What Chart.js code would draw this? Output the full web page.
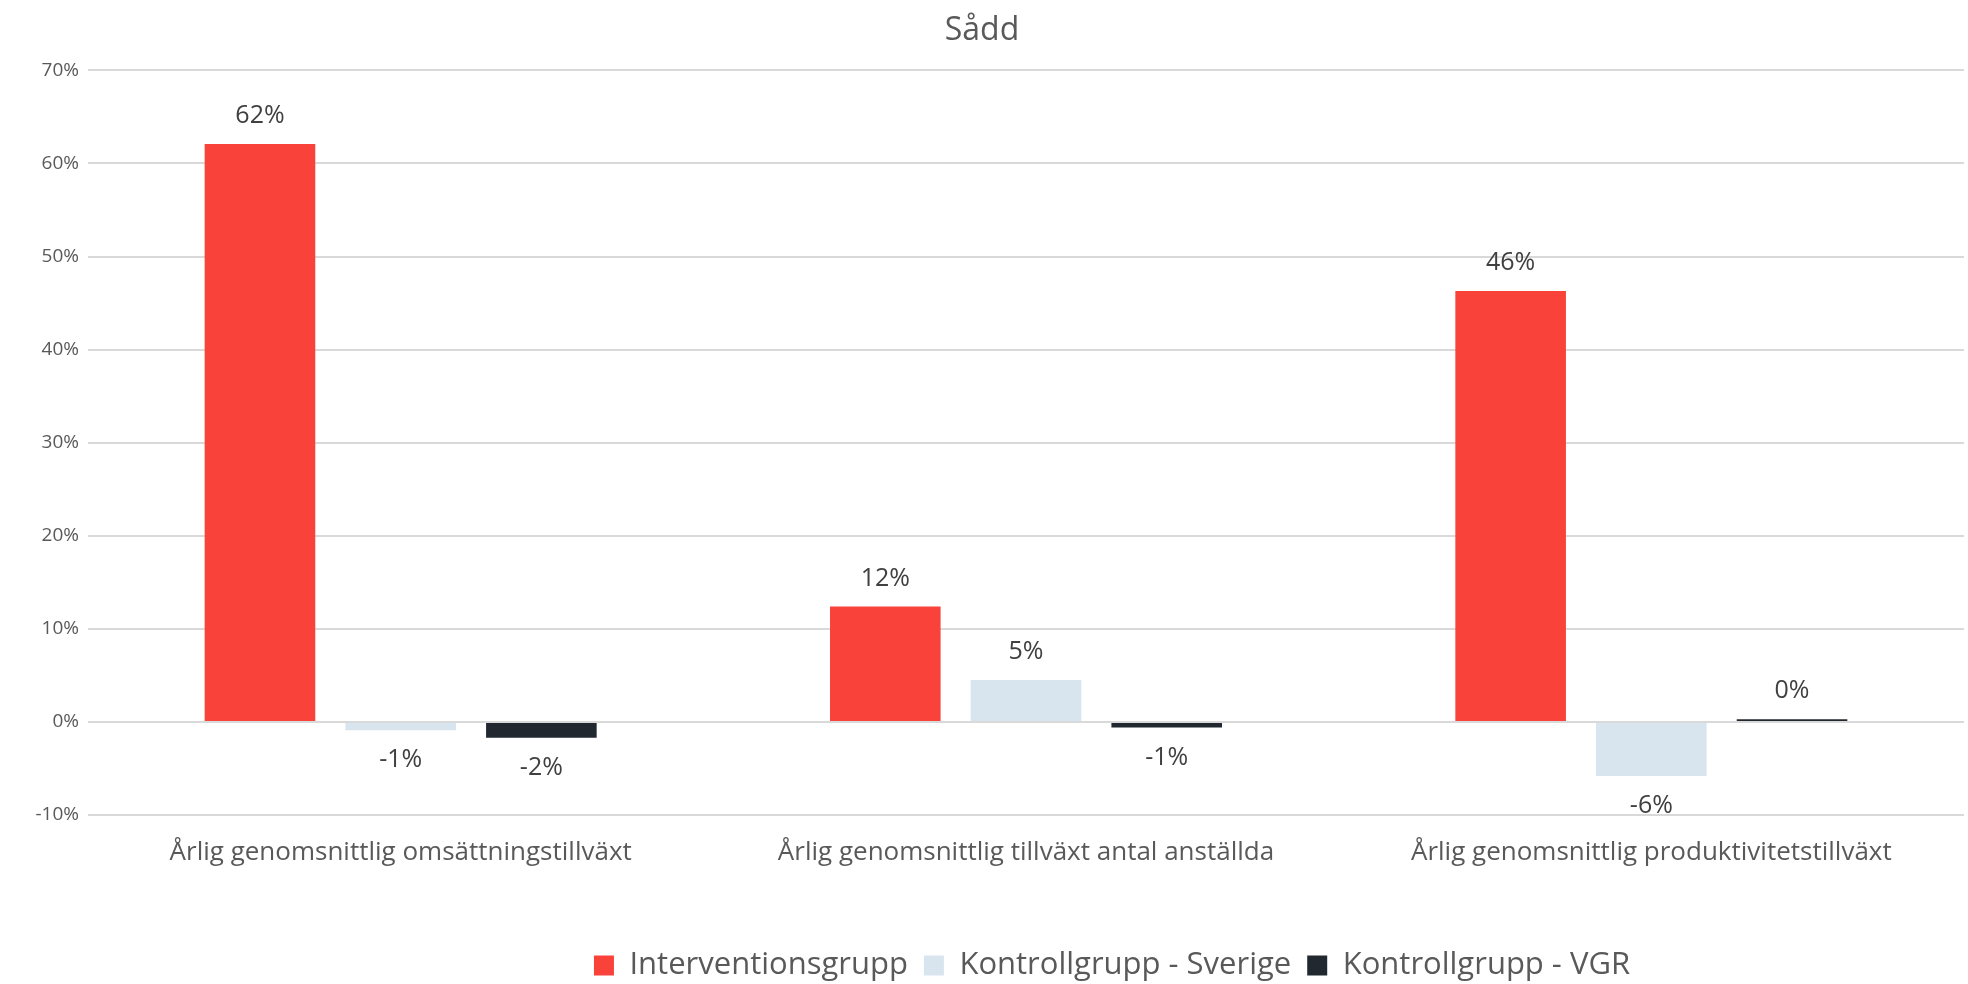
<!DOCTYPE html>
<html>
<head>
<meta charset="utf-8">
<script src="https://cdn.jsdelivr.net/npm/chart.js@4/dist/chart.umd.min.js"></script>
<style>
  html, body { margin: 0; padding: 0; background: #fff; }
  #wrap { width: 1968px; height: 984px; }
</style>
</head>
<body>
<div id="wrap"><canvas id="chart"></canvas></div>
<script>
// data
const categories = [
    'Årlig genomsnittlig omsättningstillväxt',
    'Årlig genomsnittlig tillväxt antal anställda',
    'Årlig genomsnittlig produktivitetstillväxt'
];
const interventionsgrupp = [62.1, 12.4, 46.3];
const kontrollSverige = [-0.9, 4.5, -5.8];
const kontrollVGR = [-1.7, -0.6, 0.3];
const yTicks = [-10, 0, 10, 20, 30, 40, 50, 60, 70];

const FONT = '"Open Sans", sans-serif';

// value labels above / below each bar
const barLabels = {
    id: 'barLabels',
    afterDatasetsDraw(chart) {
        const ctx = chart.ctx;
        ctx.save();
        ctx.font = '25px ' + FONT;
        ctx.fillStyle = '#404040';
        ctx.textAlign = 'center';
        ctx.textBaseline = 'middle';
        chart.data.datasets.forEach((ds, i) => {
            chart.getDatasetMeta(i).data.forEach((bar, j) => {
                const v = ds.data[j];
                const y = v >= 0 ? bar.y - 28 : bar.y + 30;
                ctx.fillText(Math.round(v) + '%', bar.x, y);
            });
        });
        ctx.restore();
    }
};

// legend sits right of centre (and a touch lower) in the original
const legendShift = {
    id: 'legendShift',
    afterLayout(chart) {
        chart.legend.left += 130;
        chart.legend.right += 130;
        chart.legend.top += 9;
        chart.legend.bottom += 9;
    }
};

new Chart(document.getElementById('chart').getContext('2d'), {
    type: 'bar',
    data: {
        labels: categories,
        datasets: [
            { label: 'Interventionsgrupp', data: interventionsgrupp, backgroundColor: '#F9423A' },
            { label: 'Kontrollgrupp - Sverige', data: kontrollSverige, backgroundColor: '#D9E5EE' },
            { label: 'Kontrollgrupp - VGR', data: kontrollVGR, backgroundColor: '#21282F' }
        ]
    },
    options: {
        responsive: true,
        maintainAspectRatio: false,
        animation: false,
        categoryPercentage: 0.675,
        barPercentage: 0.786,
        layout: { padding: { left: 0, right: 4, top: 12, bottom: 2 } },
        plugins: {
            title: {
                display: true,
                text: 'Sådd',
                color: '#595959',
                font: { family: FONT, size: 32, weight: 'normal' },
                padding: { top: 0, bottom: 20 }
            },
            legend: {
                position: 'bottom',
                labels: {
                    color: '#595959',
                    font: { family: FONT, size: 31 },
                    boxWidth: 20,
                    boxHeight: 20,
                    padding: 16
                }
            },
            tooltip: { enabled: false }
        },
        scales: {
            x: {
                grid: { display: false, drawTicks: false },
                border: { display: false },
                ticks: { color: '#595959', font: { family: FONT, size: 26 }, padding: 22 },
                afterFit(scale) { scale.height = 110; }
            },
            y: {
                min: -10,
                max: 70,
                afterBuildTicks(scale) { scale.ticks = yTicks.map(v => ({ value: v })); },
                afterFit(scale) { scale.width = 88; },
                grid: { color: '#D9D9D9', lineWidth: 2, drawTicks: false },
                border: { display: false },
                ticks: {
                    color: '#595959',
                    font: { family: FONT, size: 19 },
                    padding: 9,
                    callback: v => v + '%'
                }
            }
        }
    },
    plugins: [barLabels, legendShift]
});
</script>
</body>
</html>
